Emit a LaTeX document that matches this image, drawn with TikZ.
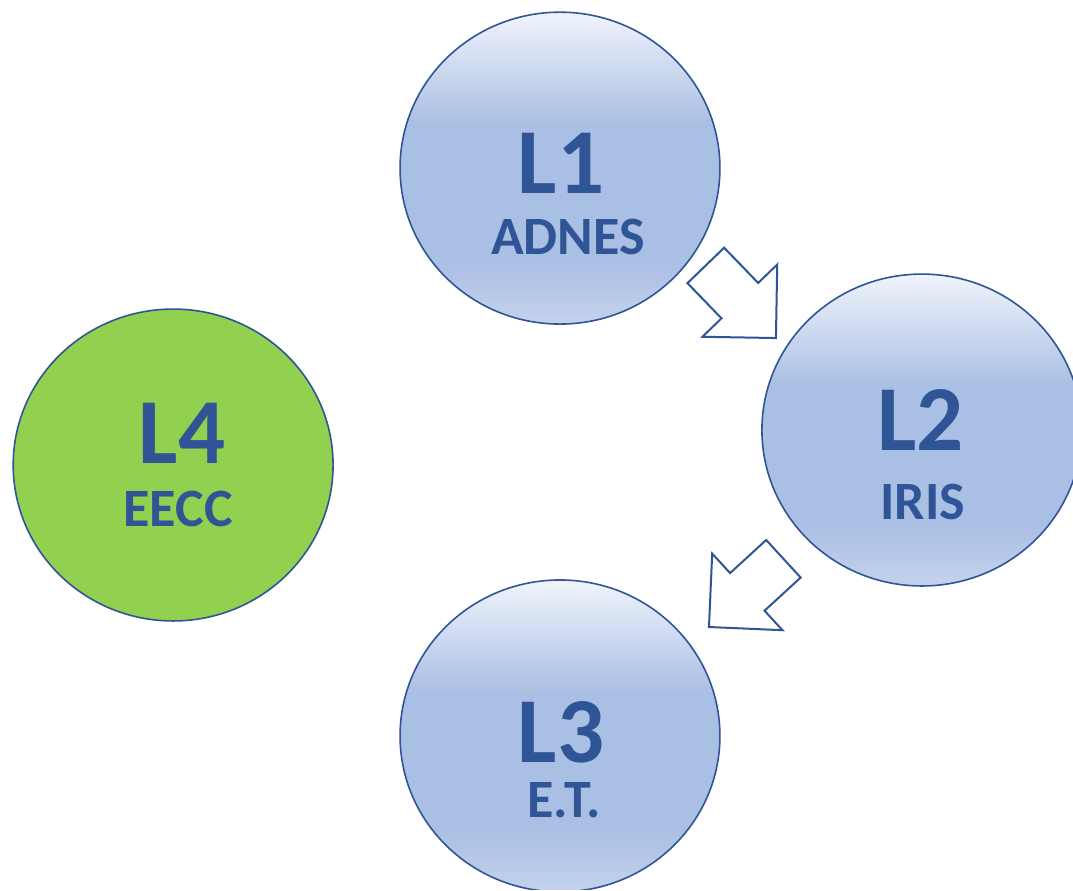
\documentclass[tikz,border=0pt]{standalone}
\usepackage{fontspec}
\setmainfont{Carlito}
\usetikzlibrary{shapes.geometric,shapes.arrows}

\definecolor{lvline}{HTML}{2F5597}
\definecolor{lvtext}{HTML}{2F5597}
\definecolor{lvtop}{HTML}{F0F4FB}
\definecolor{lvmid}{HTML}{AABFE4}
\definecolor{lvbot}{HTML}{C4D2EC}
\definecolor{lvgreen}{HTML}{92D050}

\pgfdeclareverticalshading{lvshade}{100bp}{color(0bp)=(lvbot); color(25bp)=(lvbot); color(35bp)=(lvmid); color(57bp)=(lvmid); color(75bp)=(lvtop); color(100bp)=(lvtop)}

\tikzset{
  level/.style={ellipse, draw=lvline, line width=1.6pt, minimum width=320pt, minimum height=312pt, inner sep=0pt},
  levelblue/.style={level, shade, shading=lvshade},
  levelgreen/.style={level, fill=lvgreen},
  lvbig/.style={text=lvtext, font=\fontsize{93}{93}\selectfont\bfseries, inner sep=0pt},
  lvsmall/.style={text=lvtext, font=\fontsize{54}{54}\selectfont\bfseries, inner sep=0pt},
  blockarrow/.style={single arrow, draw=lvline, fill=white, line width=2pt, minimum height=101pt, single arrow head extend=26.5pt, single arrow tip angle=90, inner xsep=0pt, inner ysep=24.5pt, anchor=tip}
}

\begin{document}
\begin{tikzpicture}[x=1pt,y=1pt]
\filldraw[color=white] (0,0) rectangle (1073,890);
\useasboundingbox (0,0) rectangle (1073,890);
\clip (0,0) rectangle (1073,890);
% Drawing levels
% Level 1: ADNES
\node[levelblue] (L1) at (560,722) {};
\node[lvbig] (L1num) at ([xshift=1pt,yshift=5pt]L1.center) {L1};
\node[lvsmall] (L1name) at ([xshift=8pt,yshift=-69pt]L1.center) {ADNES};
% Level 2: IRIS
\node[levelblue] (L2) at (922,460) {};
\node[lvbig] (L2num) at ([xshift=-1pt,yshift=10pt]L2.center) {L2};
\node[lvsmall] (L2name) at ([xshift=1pt,yshift=-72pt]L2.center) {IRIS};
% Level 3: E.T.
\node[levelblue] (L3) at (560,154) {};
\node[lvbig] (L3num) at ([xshift=1pt,yshift=4pt]L3.center) {L3};
\node[lvsmall] (L3name) at ([xshift=4pt,yshift=-64pt]L3.center) {E.T.};
% Level 4: EECC
\node[levelgreen] (L4) at (173,425) {};
\node[lvbig] (L4num) at ([xshift=9pt,yshift=32pt]L4.center) {L4};
\node[lvsmall] (L4name) at ([xshift=5pt,yshift=-44pt]L4.center) {EECC};
% Done with levels; drawing block arrows
\node[blockarrow, rotate=-46] (a12) at (777,551) {};
\node[blockarrow, rotate=-137.5] (a23) at (708,262) {};
% Done with arrows
\end{tikzpicture}
\end{document}
